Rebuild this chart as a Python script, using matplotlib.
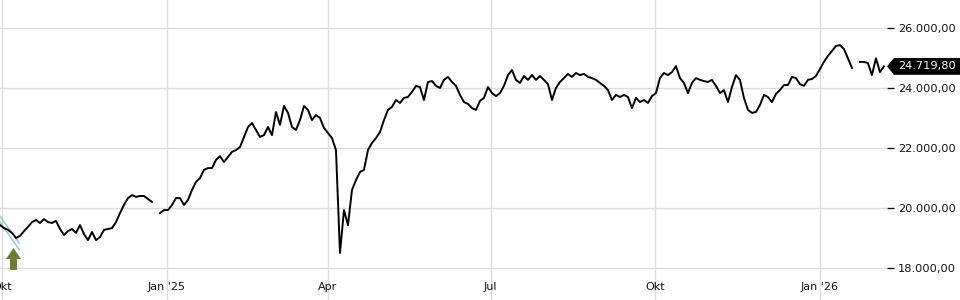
import numpy as np
import pandas as pd
import matplotlib
matplotlib.use("Agg")
import matplotlib.pyplot as plt
import matplotlib.transforms as mtransforms
from matplotlib.patches import Polygon

# index level (nan = gap in the line)
nan = np.nan
values = [
    19430, 19330, 19270, 19170, 19000, 19070, 19230, 19370, 19530, 19600,
    19500, 19630, 19530, 19500, 19570, 19300, 19100, 19230, 19300, 19170,
    19430, 19130, 18930, 19200, 18930, 19030, 19270, 19300, 19330, 19530,
    19830, 20100, 20330, 20430, 20370, 20400, 20400, 20300, 20200, nan,
    19830, 19930, 19930, 20100, 20330, 20330, 20100, 20270, 20600, 20870,
    21000, 21270, 21330, 21330, 21600, 21730, 21530, 21700, 21870, 21930,
    22030, 22370, 22700, 22830, 22600, 22370, 22430, 22700, 22430, 23200,
    22770, 23400, 23170, 22700, 22600, 22930, 23400, 23270, 22930, 23100,
    23000, 22670, 22500, 22330, 21930, 18500, 19930, 19430, 20600, 20930,
    21200, 21270, 21930, 22170, 22330, 22530, 22930, 23270, 23370, 23600,
    23500, 23670, 23700, 23870, 24070, 24030, 23600, 24200, 24230, 24070,
    24000, 24270, 24370, 24200, 24070, 23770, 23530, 23470, 23330, 23270,
    23570, 23670, 24030, 23830, 23730, 23830, 24070, 24430, 24600, 24270,
    24170, 24400, 24270, 24430, 24270, 24400, 24270, 24130, 23600, 24000,
    24200, 24330, 24470, 24370, 24500, 24430, 24470, 24370, 24330, 24270,
    24170, 24070, 23930, 23600, 23770, 23700, 23770, 23700, 23330, 23670,
    23530, 23600, 23500, 23730, 23830, 24330, 24500, 24430, 24530, 24730,
    24330, 24170, 23830, 24170, 24330, 24270, 24230, 24200, 24270, 24070,
    23830, 23930, 23530, 24030, 24430, 24270, 23670, 23270, 23170, 23200,
    23430, 23770, 23700, 23530, 23800, 23930, 24100, 24100, 24370, 24330,
    24130, 24070, 24270, 24300, 24400, 24630, 24870, 25070, 25230, 25400,
    25430, 25300, 24990, 24670, nan, 24870, 24870, 24830, 24430, 24990,
    24530, 24719.80,
]
first_date = "2024-09-29 16:00"
last_date = "2026-02-05 19:00"
view_start = "2024-09-29 16:00"
view_end = "2026-02-07 12:00"

month_ticks = ["2024-10-01", "2025-01-01", "2025-04-01", "2025-07-01",
               "2025-10-01", "2026-01-01"]
month_labels = ["Okt", "Jan '25", "Apr", "Jul", "Okt", "Jan '26"]
price_ticks = [18000, 20000, 22000, 24000, 26000]
last_price = 24719.80

# trend channel drawn at the start
channel_dates = ["2024-09-29 16:00", "2024-10-10 12:00"]
channel_upper = [19730, 18830]
channel_lower = [19530, 18600]


def de_fmt(v):
    return f"{v:,.2f}".replace(",", "X").replace(".", ",").replace("X", ".")


fig = plt.figure(figsize=(9.6, 3.0), dpi=100)
ax = fig.add_axes([0, 0, 887 / 960, 1])

dates = pd.date_range(first_date, last_date, periods=len(values))
ax.plot(pd.to_datetime(channel_dates), channel_upper, color="#8ec8cc", lw=1)
ax.plot(pd.to_datetime(channel_dates), channel_lower, color="#8ec8cc", lw=1)
ax.plot(dates, values, color="black", lw=1.4)

ax.set_xlim(pd.Timestamp(view_start), pd.Timestamp(view_end))
ax.set_ylim(16933, 26933)
for s in ax.spines.values():
    s.set_visible(False)

ax.set_xticks(pd.to_datetime(month_ticks))
ax.set_xticklabels([])
ax.tick_params(axis="x", length=0)
ax.grid(True, color="#dcdcdc", lw=1)
ax.set_axisbelow(True)

ax.yaxis.tick_right()
ax.set_yticks(price_ticks, [de_fmt(v) for v in price_ticks])
ax.tick_params(axis="y", length=5, width=1, color="#111111", pad=3,
               labelsize=8.2, labelcolor="#111111")

for d, lab in zip(month_ticks, month_labels):
    ax.text(pd.Timestamp(d), 1 - 287 / 300, lab, transform=ax.get_xaxis_transform(),
            ha="center", va="center", fontsize=8, color="#111111")

# last price tag
tr = mtransforms.blended_transform_factory(fig.transFigure, ax.transData)
h = 280
tag = Polygon([(887 / 960, last_price), (894 / 960, last_price + h), (1, last_price + h),
               (1, last_price - h), (894 / 960, last_price - h)],
              closed=True, facecolor="black", edgecolor="none", transform=tr, clip_on=False)
fig.add_artist(tag)
fig.text(898 / 960, 0, de_fmt(last_price), transform=tr, color="white",
         fontsize=8.2, va="center", ha="left")
fig.texts[-1].set_y(last_price)

# buy signal arrow
arrow_px = [(13.5, 248), (21, 259), (17, 259), (17, 270), (10, 270), (10, 259), (6, 259)]
arrow = Polygon([(x / 960, 1 - y / 300) for x, y in arrow_px], closed=True,
                facecolor="#6b7c36", edgecolor="none", transform=fig.transFigure)
fig.add_artist(arrow)

fig.savefig("out.png", dpi=100)
